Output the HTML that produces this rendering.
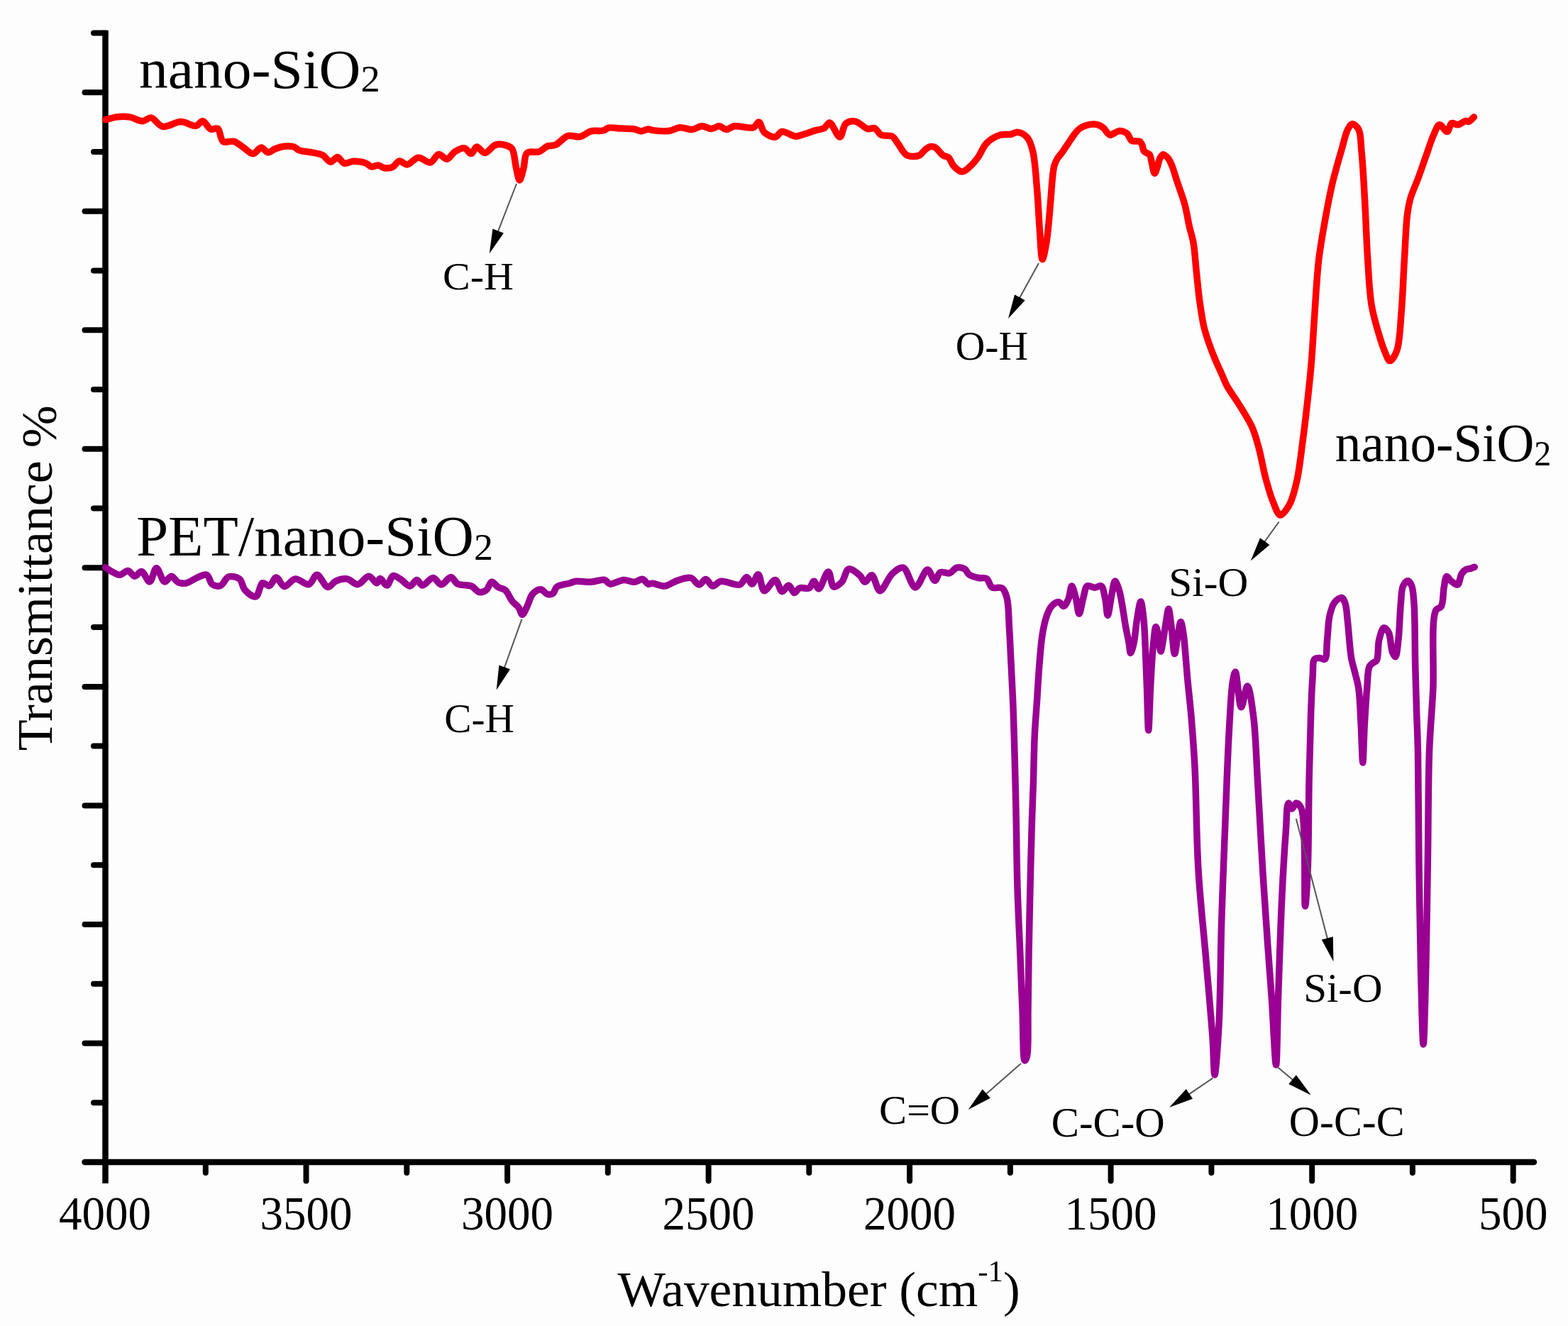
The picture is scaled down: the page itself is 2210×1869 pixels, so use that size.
<!DOCTYPE html>
<html><head><meta charset="utf-8"><title>FTIR spectra</title>
<style>
html,body{margin:0;padding:0;background:#fdfdfd;}
svg{display:block;filter:blur(0.6px);}
text{font-family:"Liberation Serif","Times New Roman",serif;fill:#000;}
</style></head>
<body>
<svg width="2210" height="1869" viewBox="0 0 2210 1869">
<rect width="2210" height="1869" fill="#fdfdfd"/>
<line x1="148.5" y1="42.65" x2="148.5" y2="1668.0" stroke="#000" stroke-width="8.5"/>
<line x1="119.5" y1="1638.0" x2="2162" y2="1638.0" stroke="#000" stroke-width="8.5" stroke-linecap="round"/>
<line x1="132.0" y1="46.4" x2="148.5" y2="46.4" stroke="#000" stroke-width="8" stroke-linecap="round"/>
<line x1="119.5" y1="130.2" x2="148.5" y2="130.2" stroke="#000" stroke-width="8" stroke-linecap="round"/>
<line x1="132.0" y1="213.9" x2="148.5" y2="213.9" stroke="#000" stroke-width="8" stroke-linecap="round"/>
<line x1="119.5" y1="297.7" x2="148.5" y2="297.7" stroke="#000" stroke-width="8" stroke-linecap="round"/>
<line x1="132.0" y1="381.5" x2="148.5" y2="381.5" stroke="#000" stroke-width="8" stroke-linecap="round"/>
<line x1="119.5" y1="465.2" x2="148.5" y2="465.2" stroke="#000" stroke-width="8" stroke-linecap="round"/>
<line x1="132.0" y1="549.0" x2="148.5" y2="549.0" stroke="#000" stroke-width="8" stroke-linecap="round"/>
<line x1="119.5" y1="632.8" x2="148.5" y2="632.8" stroke="#000" stroke-width="8" stroke-linecap="round"/>
<line x1="132.0" y1="716.5" x2="148.5" y2="716.5" stroke="#000" stroke-width="8" stroke-linecap="round"/>
<line x1="119.5" y1="800.3" x2="148.5" y2="800.3" stroke="#000" stroke-width="8" stroke-linecap="round"/>
<line x1="132.0" y1="884.1" x2="148.5" y2="884.1" stroke="#000" stroke-width="8" stroke-linecap="round"/>
<line x1="119.5" y1="967.9" x2="148.5" y2="967.9" stroke="#000" stroke-width="8" stroke-linecap="round"/>
<line x1="132.0" y1="1051.6" x2="148.5" y2="1051.6" stroke="#000" stroke-width="8" stroke-linecap="round"/>
<line x1="119.5" y1="1135.4" x2="148.5" y2="1135.4" stroke="#000" stroke-width="8" stroke-linecap="round"/>
<line x1="132.0" y1="1219.2" x2="148.5" y2="1219.2" stroke="#000" stroke-width="8" stroke-linecap="round"/>
<line x1="119.5" y1="1302.9" x2="148.5" y2="1302.9" stroke="#000" stroke-width="8" stroke-linecap="round"/>
<line x1="132.0" y1="1386.7" x2="148.5" y2="1386.7" stroke="#000" stroke-width="8" stroke-linecap="round"/>
<line x1="119.5" y1="1470.5" x2="148.5" y2="1470.5" stroke="#000" stroke-width="8" stroke-linecap="round"/>
<line x1="132.0" y1="1554.2" x2="148.5" y2="1554.2" stroke="#000" stroke-width="8" stroke-linecap="round"/>
<line x1="289.8" y1="1638.0" x2="289.8" y2="1653.0" stroke="#000" stroke-width="8" stroke-linecap="round"/>
<line x1="431.5" y1="1638.0" x2="431.5" y2="1664.5" stroke="#000" stroke-width="8" stroke-linecap="round"/>
<line x1="573.3" y1="1638.0" x2="573.3" y2="1653.0" stroke="#000" stroke-width="8" stroke-linecap="round"/>
<line x1="715.1" y1="1638.0" x2="715.1" y2="1664.5" stroke="#000" stroke-width="8" stroke-linecap="round"/>
<line x1="856.8" y1="1638.0" x2="856.8" y2="1653.0" stroke="#000" stroke-width="8" stroke-linecap="round"/>
<line x1="998.6" y1="1638.0" x2="998.6" y2="1664.5" stroke="#000" stroke-width="8" stroke-linecap="round"/>
<line x1="1140.3" y1="1638.0" x2="1140.3" y2="1653.0" stroke="#000" stroke-width="8" stroke-linecap="round"/>
<line x1="1282.1" y1="1638.0" x2="1282.1" y2="1664.5" stroke="#000" stroke-width="8" stroke-linecap="round"/>
<line x1="1423.9" y1="1638.0" x2="1423.9" y2="1653.0" stroke="#000" stroke-width="8" stroke-linecap="round"/>
<line x1="1565.6" y1="1638.0" x2="1565.6" y2="1664.5" stroke="#000" stroke-width="8" stroke-linecap="round"/>
<line x1="1707.4" y1="1638.0" x2="1707.4" y2="1653.0" stroke="#000" stroke-width="8" stroke-linecap="round"/>
<line x1="1849.2" y1="1638.0" x2="1849.2" y2="1664.5" stroke="#000" stroke-width="8" stroke-linecap="round"/>
<line x1="1990.9" y1="1638.0" x2="1990.9" y2="1653.0" stroke="#000" stroke-width="8" stroke-linecap="round"/>
<line x1="2132.7" y1="1638.0" x2="2132.7" y2="1664.5" stroke="#000" stroke-width="8" stroke-linecap="round"/>
<text transform="translate(148.0,1733.4) scale(0.985,1.02)" font-size="66" text-anchor="middle">4000</text>
<text transform="translate(431.5,1733.4) scale(0.985,1.02)" font-size="66" text-anchor="middle">3500</text>
<text transform="translate(715.1,1733.4) scale(0.985,1.02)" font-size="66" text-anchor="middle">3000</text>
<text transform="translate(998.6,1733.4) scale(0.985,1.02)" font-size="66" text-anchor="middle">2500</text>
<text transform="translate(1282.1,1733.4) scale(0.985,1.02)" font-size="66" text-anchor="middle">2000</text>
<text transform="translate(1565.6,1733.4) scale(0.985,1.02)" font-size="66" text-anchor="middle">1500</text>
<text transform="translate(1849.2,1733.4) scale(0.985,1.02)" font-size="66" text-anchor="middle">1000</text>
<text transform="translate(2132.7,1733.4) scale(0.985,1.02)" font-size="66" text-anchor="middle">500</text>
<path d="M148.6,168.8 C154.0,167.5 159.3,165.6 164.9,164.9 C170.5,164.2 176.3,164.0 182.2,164.9 C188.5,165.8 195.9,171.0 201.4,170.7 C205.8,170.5 208.9,165.4 212.9,165.9 C218.0,166.6 222.8,177.1 229.2,178.4 C236.5,179.9 246.9,171.5 255.1,171.6 C262.5,171.6 270.6,178.3 276.1,177.4 C280.1,176.7 282.5,170.4 285.7,170.7 C289.5,171.0 293.2,180.8 297.2,182.2 C300.3,183.3 304.2,179.7 306.8,181.2 C310.6,183.4 310.2,196.6 314.5,199.4 C318.3,201.9 325.0,198.0 329.8,199.4 C334.7,200.8 338.8,205.2 343.3,208.1 C347.8,211.0 352.5,216.9 356.7,216.7 C360.7,216.6 364.5,208.2 368.2,208.1 C371.5,208.0 374.5,214.6 377.8,214.8 C380.9,215.0 383.9,211.4 387.4,210.0 C391.4,208.4 396.3,206.7 400.8,206.2 C405.2,205.7 410.5,205.9 414.2,207.1 C417.3,208.1 418.7,210.7 421.9,211.9 C426.4,213.6 433.5,213.6 439.1,214.8 C444.4,215.9 450.0,216.3 454.5,218.6 C458.9,220.8 462.3,228.0 466.0,228.2 C469.3,228.3 472.5,221.3 475.6,221.5 C478.9,221.7 481.4,229.1 485.2,230.1 C489.1,231.1 493.8,227.3 498.6,227.2 C504.0,227.1 511.3,228.4 515.8,230.1 C519.0,231.3 520.7,234.4 523.5,234.9 C526.4,235.4 530.1,232.7 533.1,233.0 C536.0,233.3 538.4,236.2 541.5,236.7 C545.0,237.3 549.6,237.2 553.0,235.7 C556.6,234.1 559.0,227.7 562.6,227.1 C566.1,226.5 570.1,232.2 574.1,231.9 C578.9,231.5 584.0,222.8 589.4,222.3 C594.9,221.8 601.8,230.0 606.7,229.0 C611.3,228.0 614.2,218.0 618.2,217.5 C621.9,217.0 626.0,224.6 629.7,224.2 C633.7,223.8 636.9,216.3 641.2,213.7 C645.3,211.2 650.7,208.2 654.6,208.9 C658.3,209.5 661.3,216.9 664.2,216.6 C667.1,216.3 668.9,207.4 671.9,207.0 C675.2,206.6 679.3,215.6 683.4,215.6 C688.1,215.6 693.3,205.7 698.7,204.1 C703.6,202.6 710.0,203.8 714.1,205.1 C717.3,206.1 719.8,207.0 721.8,209.9 C725.3,214.9 725.6,228.8 727.5,236.7 C729.1,243.1 730.6,254.0 732.3,254.0 C734.1,254.0 736.3,242.8 738.0,236.7 C739.9,230.1 738.7,219.3 742.9,215.6 C746.6,212.3 755.1,215.5 760.1,213.7 C764.5,212.1 767.6,207.6 771.6,206.0 C775.3,204.5 779.1,205.8 783.1,204.1 C788.5,201.8 794.3,193.4 800.4,191.6 C805.9,190.0 812.2,193.7 817.6,192.6 C823.0,191.5 827.6,186.3 833.0,184.9 C838.4,183.5 845.7,185.2 850.2,184.0 C853.4,183.2 854.7,180.8 857.9,180.1 C862.4,179.2 869.3,180.8 875.2,181.1 C881.4,181.4 889.1,181.2 894.3,182.1 C898.1,182.7 900.7,184.9 903.9,184.9 C907.1,184.9 910.6,182.2 913.5,182.1 C915.9,182.0 917.1,183.2 920.0,183.6 C925.3,184.3 936.2,185.4 943.0,184.5 C948.7,183.7 953.1,180.1 958.4,179.7 C963.9,179.3 970.3,183.1 975.6,182.6 C980.4,182.2 984.5,178.0 989.0,177.8 C993.5,177.6 998.2,181.7 1002.5,181.6 C1006.5,181.5 1010.4,177.5 1014.0,177.8 C1017.4,178.1 1020.2,182.5 1023.5,182.6 C1027.1,182.7 1030.3,178.6 1035.0,177.8 C1042.0,176.7 1055.9,181.9 1061.9,179.7 C1065.7,178.3 1067.3,171.7 1069.6,172.1 C1072.5,172.5 1073.4,182.9 1077.2,186.4 C1081.0,190.0 1088.2,193.7 1092.6,193.1 C1096.3,192.6 1098.2,186.2 1102.2,185.5 C1107.3,184.6 1115.7,191.9 1121.3,192.2 C1125.6,192.4 1128.6,190.5 1132.8,189.3 C1138.0,187.8 1144.9,185.1 1150.1,183.6 C1154.3,182.4 1158.4,182.5 1161.6,180.7 C1164.7,178.9 1166.5,172.8 1169.3,173.0 C1173.5,173.3 1179.8,193.5 1183.7,193.1 C1187.3,192.7 1188.0,177.5 1192.3,174.0 C1195.8,171.2 1201.1,170.3 1205.7,171.1 C1211.3,172.0 1217.9,180.4 1223.0,181.6 C1226.5,182.4 1229.6,179.6 1232.6,180.7 C1236.1,182.0 1238.2,188.4 1242.1,190.3 C1246.3,192.4 1253.6,190.0 1257.5,192.2 C1261.0,194.2 1262.3,198.1 1265.2,201.8 C1269.1,206.7 1273.1,216.3 1278.6,219.0 C1283.5,221.4 1291.5,220.8 1295.8,219.0 C1299.2,217.6 1300.8,213.5 1303.5,211.4 C1306.0,209.5 1308.6,207.1 1311.2,206.6 C1313.4,206.1 1315.4,206.4 1317.7,207.5 C1321.3,209.3 1325.5,216.6 1329.2,219.0 C1331.8,220.7 1334.5,220.0 1336.8,221.9 C1339.8,224.4 1341.2,231.0 1344.5,234.4 C1347.7,237.7 1352.2,242.0 1356.0,242.0 C1359.8,242.0 1363.9,237.6 1367.5,234.4 C1371.6,230.8 1375.4,226.0 1379.0,221.0 C1383.1,215.3 1385.4,206.9 1390.5,201.8 C1395.6,196.7 1403.4,192.3 1409.7,190.3 C1414.9,188.7 1420.5,190.1 1425.0,189.3 C1428.6,188.6 1431.2,186.0 1434.6,186.4 C1438.8,186.9 1444.7,190.1 1448.1,194.1 C1452.1,198.7 1453.7,205.2 1455.7,213.3 C1458.9,226.2 1459.9,247.3 1461.5,265.0 C1463.2,283.7 1463.9,304.8 1465.3,322.6 C1466.5,338.0 1467.2,365.4 1469.2,365.5 C1470.7,365.6 1473.3,351.5 1474.9,341.8 C1477.4,326.9 1479.3,300.2 1480.7,284.2 C1481.7,272.8 1482.1,263.9 1483.0,255.0 C1483.8,247.4 1484.3,239.6 1485.8,234.0 C1486.9,230.0 1488.2,227.2 1490.0,224.0 C1491.9,220.6 1494.9,217.8 1497.3,214.4 C1499.9,210.8 1502.3,207.0 1505.0,203.0 C1508.0,198.6 1511.4,192.9 1514.5,189.0 C1517.0,185.8 1519.1,183.1 1522.0,181.0 C1524.9,178.9 1528.5,177.5 1531.8,176.5 C1534.9,175.6 1538.0,175.0 1541.0,175.0 C1543.8,175.0 1546.5,175.5 1549.0,176.5 C1551.5,177.5 1554.1,179.2 1556.0,181.0 C1557.8,182.7 1558.9,185.4 1560.5,187.0 C1561.8,188.4 1563.1,190.1 1564.5,190.3 C1565.9,190.5 1567.3,189.2 1569.0,188.5 C1571.5,187.5 1575.0,184.8 1577.8,184.5 C1580.3,184.2 1583.0,185.1 1585.0,186.0 C1586.7,186.8 1587.9,187.6 1589.3,189.1 C1591.3,191.2 1592.8,196.9 1595.0,198.3 C1596.5,199.3 1598.2,198.8 1600.0,199.0 C1602.0,199.2 1604.8,198.5 1606.5,199.5 C1608.2,200.5 1609.1,202.9 1610.0,205.0 C1611.1,207.4 1610.8,211.1 1612.3,213.0 C1613.6,214.7 1616.5,215.6 1618.0,216.5 C1619.0,217.1 1619.7,217.0 1620.4,218.0 C1621.9,220.0 1622.4,225.8 1623.5,230.0 C1624.7,234.6 1625.9,244.2 1627.3,244.3 C1628.4,244.4 1629.9,239.1 1631.0,236.0 C1632.3,232.4 1632.9,227.2 1634.5,224.0 C1635.7,221.5 1637.3,218.4 1638.8,217.9 C1639.8,217.6 1640.9,218.3 1642.0,219.0 C1643.5,219.9 1645.3,221.6 1646.8,223.6 C1648.8,226.2 1650.3,229.9 1652.0,234.0 C1654.2,239.4 1655.9,246.1 1658.3,253.5 C1661.5,263.4 1666.7,276.6 1669.8,288.0 C1672.7,298.8 1674.3,310.4 1676.5,320.0 C1678.3,328.0 1680.5,333.5 1682.0,341.8 C1683.9,352.7 1684.6,367.0 1686.0,380.0 C1687.4,393.7 1688.7,408.4 1690.5,422.0 C1692.3,435.0 1694.1,448.9 1696.7,460.0 C1698.8,469.0 1701.3,476.2 1704.0,484.0 C1706.6,491.5 1709.3,498.5 1712.4,505.9 C1715.7,513.8 1720.0,523.0 1723.1,529.9 C1725.4,535.1 1726.3,538.3 1729.2,543.6 C1733.6,551.7 1742.1,563.1 1748.1,573.0 C1754.0,582.7 1760.5,592.4 1764.9,602.4 C1769.1,612.0 1771.4,621.0 1774.3,631.7 C1777.8,644.4 1780.3,660.5 1783.8,673.7 C1787.0,685.6 1790.3,697.9 1794.3,707.3 C1797.4,714.6 1800.6,725.6 1804.5,726.0 C1808.3,726.4 1813.7,717.7 1817.3,711.4 C1822.1,702.9 1824.9,690.7 1827.8,677.9 C1831.5,661.6 1833.7,639.7 1836.2,621.2 C1838.6,603.4 1840.5,586.8 1842.5,568.8 C1844.6,549.8 1846.8,529.6 1848.4,510.0 C1850.0,490.5 1850.8,472.9 1852.3,451.5 C1854.1,425.6 1855.8,390.7 1858.8,365.4 C1861.2,345.3 1864.2,329.4 1867.4,311.5 C1870.6,293.5 1874.0,275.0 1878.1,257.7 C1882.0,241.3 1887.1,224.0 1891.1,210.3 C1894.2,199.7 1896.3,188.5 1899.7,182.3 C1901.7,178.7 1903.7,175.0 1906.1,174.8 C1908.7,174.6 1912.7,178.3 1914.8,182.3 C1918.4,189.0 1917.8,202.0 1919.1,214.6 C1920.9,232.4 1922.1,256.1 1923.4,279.2 C1925.0,305.9 1925.9,338.7 1927.7,365.4 C1929.2,388.5 1930.0,411.3 1933.1,430.0 C1935.5,444.7 1939.4,457.2 1942.8,468.8 C1945.6,478.3 1948.3,487.4 1951.4,494.6 C1953.8,500.1 1956.1,508.4 1958.9,508.6 C1961.8,508.8 1966.1,501.2 1968.6,494.6 C1973.1,482.8 1973.4,460.3 1975.1,440.8 C1977.1,417.8 1977.9,389.6 1979.4,365.4 C1980.8,343.0 1981.6,316.5 1983.7,300.8 C1984.9,291.6 1985.8,286.8 1988.0,279.2 C1990.6,270.4 1995.1,261.2 1998.8,251.2 C2003.0,239.8 2007.8,225.5 2011.7,214.6 C2014.8,205.8 2017.1,197.8 2020.3,190.9 C2022.9,185.2 2025.5,176.4 2028.9,175.8 C2032.0,175.3 2036.8,186.0 2039.7,185.5 C2042.5,185.0 2043.2,175.0 2046.1,173.7 C2048.5,172.6 2051.8,176.1 2054.8,175.8 C2058.3,175.4 2062.7,170.8 2065.5,170.5 C2067.2,170.3 2068.3,171.9 2069.8,171.5 C2072.1,170.9 2074.9,167.2 2077.4,165.1" fill="none" stroke="#ff0000" stroke-width="9.5" stroke-linejoin="round" stroke-linecap="round"/>
<path d="M148.6,799.7 C151.5,801.6 154.1,803.8 157.3,805.5 C160.8,807.4 165.0,810.4 168.8,810.3 C172.7,810.2 176.7,804.1 180.3,804.5 C183.8,804.9 186.7,812.1 189.9,812.2 C193.0,812.3 196.3,805.1 199.4,805.5 C203.3,806.1 207.6,820.3 211.0,819.9 C214.7,819.5 217.0,800.8 220.5,800.7 C224.0,800.6 227.9,819.2 232.0,819.9 C235.0,820.4 238.4,812.1 241.6,812.2 C244.8,812.3 247.6,819.2 251.2,820.8 C254.6,822.3 258.7,822.6 262.7,821.8 C267.6,820.9 273.1,816.1 278.1,814.1 C282.6,812.3 288.0,808.9 291.5,810.3 C295.2,811.8 295.6,821.2 299.2,823.7 C302.3,825.8 307.2,826.8 310.7,825.6 C315.0,824.1 317.6,814.6 322.2,813.1 C326.6,811.6 333.7,813.1 337.5,816.0 C341.5,819.0 341.4,827.3 345.2,831.4 C349.0,835.6 356.4,842.0 360.5,840.9 C364.9,839.7 366.1,823.3 370.1,821.8 C372.9,820.7 376.7,826.4 379.7,825.6 C383.3,824.7 385.9,814.2 389.3,814.1 C392.9,814.0 396.5,826.1 400.8,826.6 C405.3,827.1 410.5,816.6 416.1,816.0 C422.0,815.3 430.1,825.0 435.3,823.7 C440.1,822.5 442.7,810.3 446.8,810.3 C451.5,810.3 457.1,827.0 462.1,827.5 C466.0,827.9 469.2,820.8 473.6,818.9 C478.2,816.9 484.0,815.3 489.0,816.0 C494.2,816.7 499.3,824.1 504.3,823.7 C509.6,823.2 515.0,812.1 519.7,812.2 C523.9,812.3 528.4,822.1 531.2,821.8 C533.3,821.5 533.9,815.6 535.8,815.5 C538.3,815.3 542.4,825.4 545.3,825.1 C548.5,824.8 550.4,812.6 554.0,811.6 C557.0,810.7 560.9,814.3 564.5,816.4 C568.8,818.9 573.9,826.2 577.9,826.0 C581.5,825.8 584.5,817.3 587.5,817.4 C590.2,817.5 592.1,824.8 595.2,825.1 C599.3,825.5 605.8,814.3 610.5,814.5 C614.7,814.7 618.0,824.0 622.0,824.1 C626.3,824.2 631.5,813.4 635.5,813.6 C639.1,813.8 640.9,821.0 645.1,823.1 C650.1,825.6 658.9,823.8 664.2,826.0 C668.8,827.9 671.9,834.0 675.7,834.7 C678.9,835.3 682.6,833.8 685.3,831.8 C688.5,829.4 690.0,820.8 693.0,820.3 C695.8,819.9 699.3,826.0 702.6,827.9 C705.7,829.7 709.3,829.4 712.2,831.8 C716.0,835.0 718.4,842.8 721.8,847.1 C724.8,850.9 728.9,853.3 731.3,856.7 C733.5,859.7 734.3,866.2 736.1,866.3 C738.1,866.4 740.7,859.1 742.9,854.8 C745.5,849.7 746.9,841.6 750.5,837.5 C753.6,834.1 758.4,830.7 762.0,830.8 C765.4,830.9 768.4,836.7 771.6,837.5 C774.2,838.1 777.2,838.0 779.3,836.6 C781.8,834.9 781.9,829.3 785.0,827.0 C788.9,824.0 797.4,823.6 802.3,822.2 C806.0,821.1 808.0,819.8 811.9,819.3 C817.5,818.6 826.2,820.7 833.0,820.3 C839.5,820.0 847.3,816.2 852.1,817.4 C855.5,818.2 856.5,822.5 859.8,823.1 C864.6,823.9 872.9,817.7 879.0,817.4 C884.4,817.1 889.6,820.6 894.3,820.3 C898.4,820.0 902.5,815.8 905.8,816.4 C908.8,817.0 910.9,822.3 913.5,823.1 C915.6,823.7 917.3,822.1 920.0,822.2 C924.4,822.4 931.6,826.6 937.3,826.0 C943.1,825.4 948.5,820.3 954.5,818.4 C960.6,816.5 968.4,813.2 973.7,814.5 C978.4,815.7 981.5,824.1 985.2,824.1 C988.5,824.1 991.7,816.2 994.8,816.4 C998.1,816.6 1000.9,825.5 1004.4,826.0 C1007.9,826.5 1011.1,820.2 1015.9,819.3 C1022.8,818.1 1036.4,826.2 1042.7,824.1 C1047.3,822.6 1049.3,813.5 1052.3,813.6 C1055.1,813.7 1057.5,823.2 1060.0,823.1 C1062.9,822.9 1066.0,809.4 1068.6,809.7 C1071.9,810.0 1073.0,831.8 1077.2,832.7 C1081.2,833.6 1088.3,816.9 1092.6,817.4 C1096.6,817.9 1098.6,833.1 1102.2,833.7 C1105.1,834.2 1108.9,824.8 1111.8,825.1 C1114.7,825.4 1116.7,835.3 1119.4,835.6 C1121.8,835.9 1123.9,830.1 1127.1,828.9 C1130.8,827.5 1137.1,830.7 1140.5,828.9 C1143.7,827.2 1145.0,819.2 1147.2,819.3 C1149.5,819.4 1151.3,830.0 1153.9,829.9 C1157.7,829.8 1163.8,805.6 1167.4,805.9 C1170.7,806.2 1171.1,825.6 1175.0,827.0 C1178.0,828.1 1183.2,823.7 1186.5,820.3 C1190.6,816.1 1191.7,803.4 1196.1,802.1 C1200.2,800.9 1207.5,807.3 1211.5,810.7 C1214.8,813.5 1216.3,820.1 1219.1,820.3 C1222.0,820.5 1225.7,810.2 1228.7,810.7 C1232.8,811.3 1235.7,832.4 1240.2,832.7 C1245.1,833.1 1251.3,814.4 1257.5,808.8 C1262.3,804.5 1268.1,798.9 1272.8,800.1 C1279.3,801.7 1284.2,827.8 1290.1,827.9 C1295.7,828.0 1302.3,803.0 1307.3,803.0 C1311.2,803.0 1314.5,818.4 1317.7,818.4 C1320.4,818.4 1321.7,808.6 1325.3,806.8 C1328.8,805.1 1334.9,809.0 1338.8,807.8 C1342.5,806.6 1344.8,801.0 1348.4,800.1 C1351.9,799.2 1357.0,800.3 1359.9,802.1 C1362.5,803.7 1362.9,807.7 1365.6,809.7 C1368.9,812.1 1374.6,813.5 1379.0,814.5 C1382.9,815.4 1387.4,813.6 1390.5,815.5 C1394.0,817.6 1394.5,825.7 1398.2,827.9 C1401.8,830.1 1408.8,826.6 1412.3,828.9 C1415.9,831.3 1417.4,836.5 1419.1,842.5 C1421.9,852.5 1421.5,870.2 1422.5,885.0 C1423.6,901.2 1424.2,919.0 1425.1,936.0 C1425.9,953.0 1426.9,970.0 1427.6,987.0 C1428.3,1004.0 1428.8,1020.2 1429.3,1038.0 C1429.9,1057.7 1430.5,1080.0 1431.0,1100.0 C1431.5,1118.9 1431.8,1134.2 1432.2,1155.0 C1432.8,1182.5 1433.0,1218.7 1434.0,1250.5 C1434.9,1282.3 1436.7,1315.4 1437.9,1345.7 C1439.0,1373.4 1440.0,1399.5 1441.1,1425.1 C1442.1,1449.1 1441.5,1494.3 1444.3,1494.9 C1445.2,1495.1 1446.7,1491.9 1447.5,1488.6 C1450.0,1478.6 1448.6,1447.4 1449.0,1425.0 C1449.5,1399.9 1449.5,1372.8 1450.0,1345.0 C1450.5,1314.7 1451.3,1281.7 1452.0,1250.0 C1452.8,1218.3 1453.6,1182.4 1454.5,1155.0 C1455.2,1134.2 1455.9,1118.9 1456.5,1100.0 C1457.1,1080.0 1457.3,1057.6 1458.2,1038.0 C1459.0,1020.2 1460.5,1004.0 1461.6,987.0 C1462.7,970.0 1463.6,952.2 1465.0,936.0 C1466.2,921.2 1467.2,905.9 1469.3,893.6 C1470.9,883.9 1472.7,875.1 1475.3,868.0 C1477.2,862.6 1479.0,857.7 1482.1,854.4 C1484.8,851.5 1489.3,848.2 1492.3,848.5 C1494.9,848.7 1497.0,854.7 1499.1,854.4 C1501.6,854.1 1504.1,848.3 1505.9,844.2 C1508.2,839.2 1508.8,826.1 1510.6,826.0 C1512.3,825.9 1514.7,837.1 1516.4,843.3 C1518.2,850.1 1519.3,865.1 1521.0,865.1 C1522.7,865.1 1524.7,850.1 1526.7,843.3 C1528.5,837.2 1529.1,827.9 1532.5,826.0 C1535.1,824.5 1539.5,828.3 1542.8,828.3 C1546.0,828.3 1549.6,824.7 1552.0,826.0 C1555.4,827.9 1556.3,837.9 1557.8,844.4 C1559.5,851.6 1559.8,867.4 1561.2,867.4 C1562.8,867.4 1565.1,846.2 1567.0,837.5 C1568.5,830.6 1569.7,819.3 1571.6,819.1 C1573.2,819.0 1575.7,826.8 1577.3,831.8 C1579.4,838.2 1580.5,846.7 1582.0,854.8 C1583.6,863.8 1585.0,874.5 1586.6,883.5 C1588.1,891.6 1590.0,899.9 1591.2,906.6 C1592.1,911.8 1592.4,920.3 1593.5,920.4 C1594.6,920.5 1596.7,912.3 1598.0,906.6 C1600.0,897.7 1600.9,882.5 1602.7,872.0 C1604.2,863.2 1606.3,847.9 1607.8,847.9 C1609.3,847.9 1610.8,862.6 1611.9,872.0 C1613.4,884.8 1613.7,902.2 1614.5,918.0 C1615.3,934.8 1615.8,952.1 1616.5,970.0 C1617.2,989.1 1617.9,1029.3 1618.7,1029.3 C1619.5,1029.3 1620.6,987.2 1621.5,970.0 C1622.2,956.8 1622.7,946.1 1623.4,935.0 C1624.1,925.0 1624.7,915.6 1625.7,906.6 C1626.6,898.5 1627.7,883.6 1629.1,883.5 C1630.1,883.4 1631.6,890.5 1632.6,895.0 C1634.0,901.3 1634.7,918.1 1636.0,918.1 C1637.3,918.1 1639.2,902.7 1640.6,895.0 C1641.9,887.3 1642.9,878.7 1644.1,872.0 C1645.0,866.8 1646.0,858.2 1647.0,858.2 C1648.3,858.2 1649.7,874.2 1651.0,883.5 C1652.6,894.9 1653.9,921.5 1655.6,921.5 C1657.0,921.5 1658.6,903.0 1660.2,895.0 C1661.5,888.3 1662.9,876.6 1664.2,876.6 C1665.5,876.6 1667.2,888.5 1668.2,895.0 C1669.3,902.2 1669.7,909.3 1670.5,918.1 C1671.6,930.0 1672.7,945.3 1674.0,959.9 C1675.5,975.8 1677.5,991.8 1679.0,1010.0 C1680.8,1031.6 1682.5,1053.1 1684.0,1081.0 C1686.1,1120.9 1686.2,1179.6 1689.0,1226.4 C1691.6,1270.2 1696.5,1312.7 1699.9,1353.4 C1703.1,1391.1 1706.9,1432.4 1709.0,1462.2 C1710.5,1482.9 1710.7,1515.0 1712.0,1515.0 C1713.5,1515.0 1716.5,1471.9 1718.0,1444.0 C1720.2,1404.2 1720.2,1347.3 1721.7,1299.0 C1723.2,1250.6 1725.2,1200.6 1727.1,1153.9 C1728.8,1110.2 1730.4,1062.6 1732.5,1027.0 C1734.0,1001.1 1735.1,973.6 1737.5,960.0 C1738.6,953.9 1739.9,946.9 1741.2,947.0 C1743.7,947.1 1746.1,996.5 1749.4,996.7 C1752.0,996.9 1755.4,966.9 1758.1,967.0 C1761.3,967.1 1764.5,993.0 1766.7,1010.1 C1769.9,1034.5 1770.5,1067.5 1772.5,1100.0 C1774.8,1138.5 1777.2,1185.8 1779.7,1226.4 C1782.0,1264.1 1784.7,1302.7 1787.0,1335.3 C1788.9,1361.9 1790.6,1382.1 1792.4,1407.8 C1794.4,1436.9 1797.0,1501.0 1798.5,1501.0 C1800.0,1501.0 1800.3,1442.3 1801.5,1407.8 C1803.0,1364.8 1804.8,1305.4 1806.9,1262.7 C1808.5,1228.9 1810.5,1196.1 1812.3,1172.0 C1813.5,1156.0 1813.3,1132.8 1816.0,1132.1 C1817.3,1131.8 1819.2,1139.9 1821.0,1140.0 C1822.8,1140.1 1824.7,1132.3 1826.8,1132.1 C1829.0,1131.9 1832.1,1134.8 1834.1,1139.4 C1841.5,1156.3 1837.6,1277.2 1839.5,1277.2 C1840.7,1277.2 1842.3,1247.1 1843.2,1226.4 C1844.6,1193.7 1844.3,1139.2 1845.1,1100.0 C1845.8,1065.8 1846.7,1031.0 1847.7,1004.0 C1848.4,984.3 1849.1,966.8 1850.2,953.0 C1850.9,943.6 1849.7,932.7 1852.8,929.2 C1854.6,927.2 1857.9,927.5 1860.4,927.5 C1862.7,927.5 1865.5,930.4 1867.2,929.2 C1870.6,926.9 1869.5,911.6 1870.6,902.0 C1871.8,891.3 1871.8,877.5 1874.0,868.0 C1875.7,860.7 1877.4,853.7 1880.8,849.3 C1883.5,845.9 1888.4,841.9 1891.0,842.5 C1893.3,843.0 1894.8,847.2 1896.1,851.0 C1898.2,857.1 1898.3,866.5 1899.5,876.5 C1901.1,890.6 1902.3,914.4 1904.6,927.5 C1906.1,935.9 1908.0,941.0 1909.7,948.0 C1911.4,955.2 1913.5,961.1 1914.8,970.0 C1916.8,983.4 1917.2,1003.8 1918.2,1021.0 C1919.2,1038.7 1919.9,1075.0 1920.8,1075.0 C1921.6,1075.0 1922.3,1038.7 1923.3,1021.0 C1924.3,1003.8 1925.4,984.8 1926.7,970.0 C1927.7,958.5 1927.4,945.1 1930.1,939.4 C1931.4,936.6 1933.4,935.8 1935.2,934.3 C1936.8,933.0 1939.0,933.1 1940.3,930.9 C1943.2,926.2 1941.6,910.2 1943.7,902.0 C1945.4,895.5 1947.7,885.6 1950.5,885.0 C1952.5,884.6 1955.5,888.4 1957.3,891.8 C1960.3,897.6 1960.1,913.1 1962.4,919.0 C1963.7,922.2 1965.5,926.0 1966.7,925.8 C1968.8,925.4 1969.8,911.5 1970.9,902.0 C1972.6,888.2 1972.9,865.1 1974.3,851.0 C1975.3,841.0 1975.0,831.0 1977.7,825.5 C1979.4,822.1 1982.5,818.6 1984.5,818.7 C1986.4,818.8 1988.3,822.3 1989.6,825.5 C1991.9,831.1 1992.2,840.0 1993.0,851.0 C1994.5,871.0 1994.1,909.7 1994.7,936.0 C1995.2,958.8 1995.9,979.0 1996.5,1000.0 C1997.1,1020.3 1998.0,1035.5 1998.5,1060.0 C1999.3,1098.7 1999.3,1159.8 1999.9,1209.7 C2000.6,1259.6 2001.3,1313.1 2002.4,1359.5 C2003.4,1399.7 2004.9,1472.0 2006.1,1472.0 C2007.4,1472.0 2008.9,1399.7 2009.9,1359.5 C2011.1,1313.1 2011.6,1259.6 2012.4,1209.7 C2013.2,1159.8 2012.9,1103.3 2014.5,1060.0 C2015.7,1026.7 2018.3,1002.9 2019.8,971.8 C2021.5,936.9 2016.7,873.9 2023.7,860.5 C2025.7,856.6 2029.4,858.0 2031.3,854.8 C2034.5,849.4 2033.7,835.6 2035.2,827.9 C2036.3,822.1 2036.9,813.2 2039.0,812.6 C2040.5,812.2 2042.4,816.6 2044.7,818.4 C2047.4,820.5 2051.8,825.0 2054.3,824.1 C2057.3,823.1 2057.7,812.5 2060.1,808.8 C2061.8,806.2 2063.5,804.3 2065.8,803.0 C2068.0,801.7 2071.3,801.8 2073.5,801.1 C2075.3,800.5 2076.7,799.8 2078.3,799.2" fill="none" stroke="#990092" stroke-width="9.5" stroke-linejoin="round" stroke-linecap="round"/>
<line x1="728.0" y1="259.0" x2="700.7" y2="329.3" stroke="#555" stroke-width="2"/><polygon points="689.8,357.3 694.4,322.6 709.9,328.6" fill="#000"/>
<line x1="1464.0" y1="371.0" x2="1435.5" y2="422.7" stroke="#555" stroke-width="2"/><polygon points="1421.0,449.0 1430.1,415.2 1444.7,423.2" fill="#000"/>
<line x1="1802.6" y1="735.5" x2="1780.4" y2="766.3" stroke="#555" stroke-width="2"/><polygon points="1762.8,790.6 1776.0,758.2 1789.4,767.9" fill="#000"/>
<line x1="735.5" y1="872.7" x2="709.8" y2="944.2" stroke="#555" stroke-width="2"/><polygon points="699.7,972.4 703.4,937.6 719.0,943.2" fill="#000"/>
<line x1="1439.0" y1="1499.0" x2="1387.3" y2="1544.2" stroke="#555" stroke-width="2"/><polygon points="1364.7,1563.9 1384.8,1535.3 1395.8,1547.8" fill="#000"/>
<line x1="1709.3" y1="1519.7" x2="1673.1" y2="1544.1" stroke="#555" stroke-width="2"/><polygon points="1648.2,1560.8 1671.8,1534.9 1681.0,1548.7" fill="#000"/>
<line x1="1801.5" y1="1504.8" x2="1824.7" y2="1524.2" stroke="#555" stroke-width="2"/><polygon points="1847.7,1543.4 1816.3,1528.0 1826.9,1515.2" fill="#000"/>
<line x1="1826.8" y1="1153.9" x2="1871.8" y2="1326.2" stroke="#555" stroke-width="2"/><polygon points="1879.4,1355.2 1862.8,1324.4 1878.8,1320.2" fill="#000"/>
<text transform="translate(196.11,124.16) scale(1.0447,1.0070)" font-size="78">nano-SiO<tspan font-size="52" dy="5">2</tspan></text>
<text transform="translate(192.13,783.49) scale(1.0362,1.0211)" font-size="78">PET/nano-SiO<tspan font-size="52" dy="5">2</tspan></text>
<text transform="translate(1881.75,650.21) scale(1.0458,1.0788)" font-size="70">nano-SiO<tspan font-size="46" dy="5">2</tspan></text>
<text transform="translate(623.93,408.41) scale(1.0366,0.9949)" font-size="56">C-H</text>
<text transform="translate(1346.74,507.39) scale(1.0292,1.0128)" font-size="56">O-H</text>
<text transform="translate(1647.36,839.97) scale(1.0590,1.0333)" font-size="56">Si-O</text>
<text transform="translate(626.25,1032.00) scale(1.0247,1.0000)" font-size="56">C-H</text>
<text transform="translate(1238.91,1584.38) scale(1.0438,1.0179)" font-size="56">C=O</text>
<text transform="translate(1481.80,1602.23) scale(1.0493,1.0692)" font-size="56">C-C-O</text>
<text transform="translate(1816.86,1600.91) scale(1.0680,1.0872)" font-size="56">O-C-C</text>
<text transform="translate(1837.20,1412.18) scale(1.0510,1.0231)" font-size="56">Si-O</text>
<text transform="translate(870.50,1840.60) scale(1.0204,0.9936)" font-size="70">Wavenumber (cm<tspan font-size="42" dy="-35">-1</tspan><tspan dy="35">)</tspan></text>
<text transform="translate(73.31,1058.33) rotate(-90) scale(1.0282,0.9896)" font-size="70">Transmittance <tspan dy="6">%</tspan></text>
</svg>
</body></html>
